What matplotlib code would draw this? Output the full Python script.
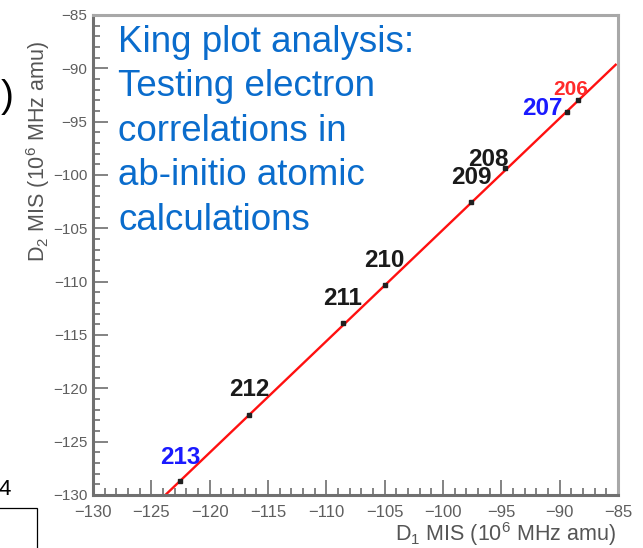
import matplotlib
matplotlib.use("Agg")
import matplotlib.pyplot as plt
from matplotlib.patches import Rectangle
from matplotlib.ticker import MultipleLocator

plt.rcParams['font.family'] = ['Liberation Sans', 'DejaVu Sans']
plt.rcParams['mathtext.default'] = 'regular'

# -------------------------
# Data
# -------------------------
isotopes = ['206', '207', '208', '209', '210', '211', '212', '213']
d1_mis = [-88.4, -89.4, -94.7, -97.6, -105.0, -108.6, -116.6, -122.55]
d2_mis = [-93.0, -94.1, -99.3, -102.5, -110.3, -113.9, -122.5, -128.7]
label_colors = ['#ff2a2a', '#1a1aff', '#1a1a1a', '#1a1a1a', '#1a1a1a',
                '#1a1a1a', '#1a1a1a', '#1a1aff']
label_sizes = [15, 17.5, 17.5, 17.5, 17.5, 17.5, 17.5, 17.5]
# label offsets from the point (pixels, right / up)
label_dx = [-8, -24, -16, 0, 0, 0, 0, 0]
label_dy = [11, 4, 8, 24, 24, 25, 25, 24]

# linear fit D2 = m * D1 + b
fit_slope = 1.045
fit_icpt = -0.63
fit_x = [-123.8, -85.2]

note_lines = ["King plot analysis:", "Testing electron", "correlations in",
              "ab-initio atomic", "calculations"]

W, H = 643, 548


def fx(px):
    return px / W


def fy(py):
    return 1 - py / H


fig = plt.figure(figsize=(W / 100, H / 100), dpi=100)
ax = fig.add_axes([fx(93), fy(495), 525 / W, 480 / H])

fit_y = [fit_slope * x + fit_icpt for x in fit_x]
ax.plot(fit_x, fit_y, color='#ff1010', lw=1.7, zorder=2)
ax.plot(d1_mis, d2_mis, 's', color='#202020', ms=2.2, zorder=3)

for i, lab in enumerate(isotopes):
    ax.annotate(lab, (d1_mis[i], d2_mis[i]),
                xytext=(label_dx[i] * 0.72, label_dy[i] * 0.72),
                textcoords='offset points', ha='center', va='center',
                fontsize=label_sizes[i], fontweight='bold',
                color=label_colors[i], zorder=4)

ax.set_xlim(-130, -85)
ax.set_ylim(-130, -85)
ax.xaxis.set_major_locator(MultipleLocator(5))
ax.yaxis.set_major_locator(MultipleLocator(5))
ax.xaxis.set_minor_locator(MultipleLocator(1))
ax.yaxis.set_minor_locator(MultipleLocator(1))

ax.tick_params(which='both', direction='in', color='#7a7a7a', width=1.3)
ax.tick_params(which='major', length=10.8)
ax.tick_params(which='minor', length=5)
ax.tick_params(axis='x', labelsize=12, labelcolor='#5e5e5e', pad=7.5)
ax.tick_params(axis='y', labelsize=11, labelcolor='#5e5e5e', pad=4)

for side in ['left', 'bottom']:
    ax.spines[side].set_color('#707070')
    ax.spines[side].set_linewidth(2.2)
for side in ['top', 'right']:
    ax.spines[side].set_color('#a8a8a8')
    ax.spines[side].set_linewidth(2.2)

# axis titles
fig.text(fx(505), fy(534), "D$_1$ MIS (10$^6$ MHz amu)", ha='center',
         va='center', fontsize=15.5, color='#555555')
fig.text(fx(38), fy(152), "D$_2$ MIS (10$^6$ MHz amu)", ha='center',
         va='center', rotation=90, fontsize=15.5, color='#555555')

# blue note
for i, line in enumerate(note_lines):
    fig.text(fx(118), fy(52 + i * 44.5), line, ha='left', va='baseline',
             fontsize=26.5, color='#0a6ccc')

# bits of the slide around the plot
fig.text(fx(7), fy(97), ")", ha='center', va='center', fontsize=28,
         color='black')
fig.text(fx(11), fy(495), "4", ha='right', va='baseline', fontsize=16,
         color='black')
fig.patches.append(Rectangle((fx(-10), fy(560)), fx(47), fy(508) - fy(560),
                             transform=fig.transFigure, fill=False,
                             edgecolor='black', lw=0.9))

fig.savefig("out.png", dpi=100)
